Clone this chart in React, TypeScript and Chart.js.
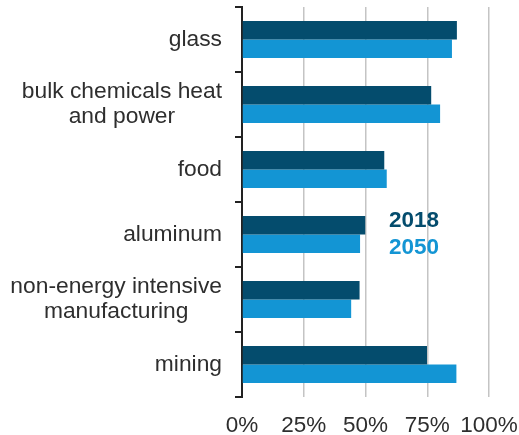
import React, { useEffect, useRef } from "react";
import { Chart, registerables } from "chart.js";

Chart.register(...registerables);

const categories: (string | string[])[] = [
  "glass",
  ["bulk chemicals heat", "and power"],
  "food",
  "aluminum",
  ["non-energy intensive", "manufacturing"],
  "mining",
];
const series2018 = [87.0, 76.6, 57.6, 49.9, 47.6, 74.9];
const series2050 = [85.0, 80.2, 58.6, 47.8, 44.2, 86.8];
const xTicks = [0, 25, 50, 75, 100];
const seriesNames = ["2018", "2050"];

const DARK = "#044c6d";
const LIGHT = "#1395d4";
const TEXT = "#2e2e2e";
const FONT = "'Liberation Sans', Arial, sans-serif";
const LABEL_SIZE = 22.8;
const LINE_H = 25;

const legendPlugin = {
  id: "inlineLegend",
  afterDatasetsDraw(chart: any) {
    const { ctx, scales } = chart;
    const x = scales.x.getPixelForValue(69.6);
    const y1 = scales.y.getPixelForValue(3 - 0.21);
    const y2 = scales.y.getPixelForValue(3 + 0.21);
    ctx.save();
    ctx.font = `bold 22.5px ${FONT}`;
    ctx.textAlign = "center";
    ctx.textBaseline = "middle";
    ctx.fillStyle = DARK;
    ctx.fillText(seriesNames[0], x, y1);
    ctx.fillStyle = LIGHT;
    ctx.fillText(seriesNames[1], x, y2);
    ctx.restore();
  },
};

const catLabelPlugin = {
  id: "catLabels",
  afterDraw(chart: any) {
    const { ctx, scales } = chart;
    const yScale = scales.y;
    const right = chart.chartArea.left - 20;
    ctx.save();
    ctx.font = `${LABEL_SIZE}px ${FONT}`;
    ctx.fillStyle = TEXT;
    ctx.textAlign = "center";
    ctx.textBaseline = "middle";
    categories.forEach((lab, i) => {
      const lines = Array.isArray(lab) ? lab : [lab];
      const w = Math.max(...lines.map((l) => ctx.measureText(l).width));
      const cx = right - w / 2;
      const cy = yScale.getPixelForValue(i);
      const y0 = cy - ((lines.length - 1) * LINE_H) / 2;
      lines.forEach((l, j) => ctx.fillText(l, cx, y0 + j * LINE_H));
    });
    ctx.restore();
  },
};

export default function App() {
  const ref = useRef<HTMLCanvasElement>(null);
  useEffect(() => {
    if (!ref.current) return;
    const chart = new Chart(ref.current, {
      type: "bar",
      data: {
        labels: categories,
        datasets: [
          {
            label: seriesNames[0],
            data: series2018,
            backgroundColor: DARK,
            categoryPercentage: 0.57,
            barPercentage: 1,
          },
          {
            label: seriesNames[1],
            data: series2050,
            backgroundColor: LIGHT,
            categoryPercentage: 0.57,
            barPercentage: 1,
          },
        ],
      },
      options: {
        indexAxis: "y",
        responsive: false,
        animation: false,
        layout: { padding: { top: 7, left: 0, right: 30, bottom: 0 } },
        plugins: { legend: { display: false }, tooltip: { enabled: false } },
        scales: {
          x: {
            min: 0,
            max: 100,
            afterBuildTicks: (scale: any) => {
              scale.ticks = xTicks.map((v) => ({ value: v }));
            },
            afterFit: (scale: any) => {
              scale.height = 38;
              scale.paddingLeft = 0;
              scale.paddingRight = 0;
            },
            border: { display: false },
            grid: {
              drawTicks: false,
              lineWidth: 1.5,
              color: (c: any) => (c.index === 0 ? "rgba(0,0,0,0)" : "#c4c4c4"),
            },
            ticks: {
              padding: 15,
              maxRotation: 0,
              minRotation: 0,
              autoSkip: false,
              color: TEXT,
              font: { family: FONT, size: 22.5 },
              callback: (v: any) => v + "%",
            },
          },
          y: {
            afterFit: (scale: any) => {
              scale.width = 242;
              scale.paddingTop = 0;
              scale.paddingBottom = 0;
            },
            border: { display: true, color: "#222222", width: 2 },
            grid: {
              drawOnChartArea: false,
              drawTicks: true,
              tickLength: 7,
              lineWidth: 2,
              color: "#222222",
              tickColor: "#222222",
            },
            ticks: {
              padding: 12,
              color: "rgba(0,0,0,0)",
              font: { family: FONT, size: LABEL_SIZE, lineHeight: 1.1 },
            },
          },
        },
      },
      plugins: [legendPlugin, catLabelPlugin],
    });
    return () => chart.destroy();
  }, []);
  return (
    <div style={{ position: "absolute", left: 0, top: 0, width: 519, height: 435 }}>
      <canvas ref={ref} width={519} height={435} />
    </div>
  );
}
